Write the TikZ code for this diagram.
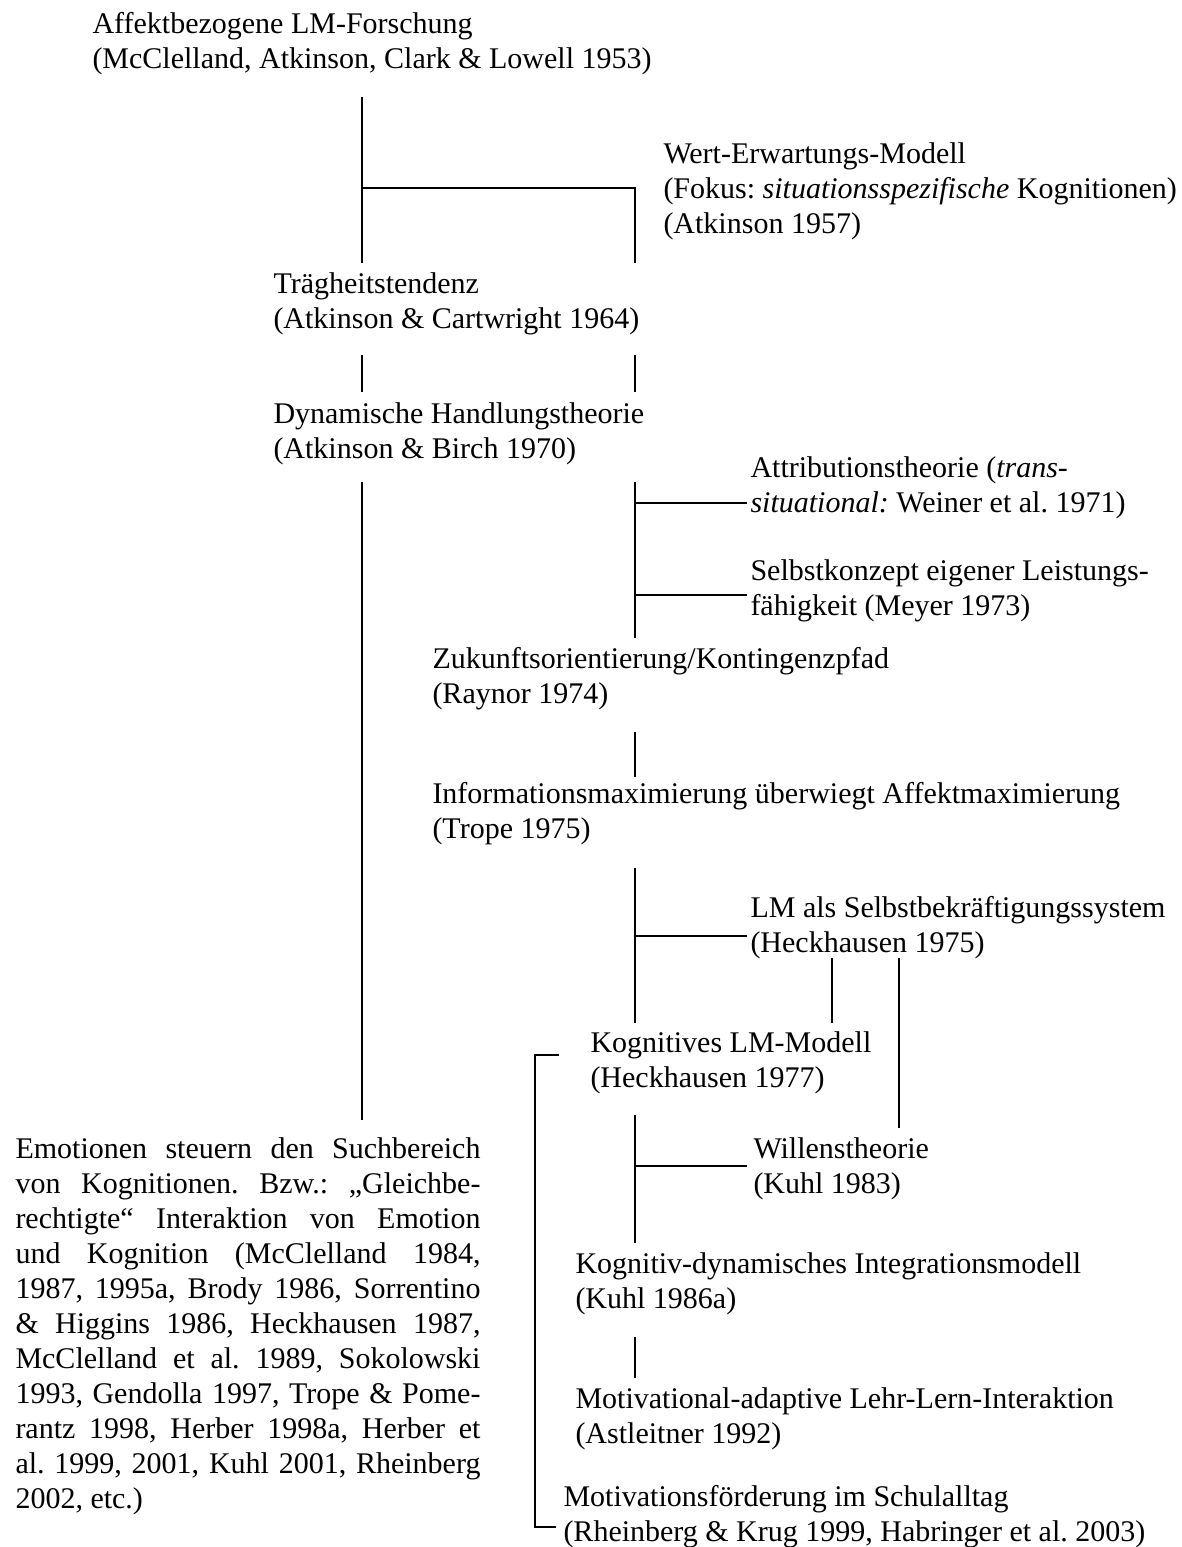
\documentclass[tikz,border=0pt]{standalone}
\usepackage{fontspec}
\setmainfont{Liberation Serif}
\usetikzlibrary{calc}

\tikzset{
  entry/.style={anchor=base west, align=left, inner sep=0pt, font=\fontsize{12}{14}\selectfont\frenchspacing},
  link/.style={black, line width=1pt},
}

\begin{document}
\begin{tikzpicture}[x=0.4pt, y=-0.4pt]
\useasboundingbox (0,0) rectangle (1181,1547);

% texts (placed at the baseline of their last line)
\node[entry] (affekt) at (92,68) {Affektbezogene LM-Forschung\\(McClelland, Atkinson, Clark \& Lowell 1953)};
\node[entry] (wert) at (663,233) {Wert-Erwartungs-Modell\\(Fokus: \textit{situationsspezifische} Kognitionen)\\(Atkinson 1957)};
\node[entry] (traeg) at (273,328) {Trägheitstendenz\\(Atkinson \& Cartwright 1964)};
\node[entry] (dynam) at (273,458) {Dynamische Handlungstheorie\\(Atkinson \& Birch 1970)};
\node[entry] (attrib) at (750,512) {Attributionstheorie (\textit{trans-}\\\textit{situational:} Weiner et al. 1971)};
\node[entry] (selbst) at (750,615) {Selbstkonzept eigener Leistungs-\\fähigkeit (Meyer 1973)};
\node[entry] (zukunft) at (432,703) {Zukunftsorientierung/Kontingenzpfad\\(Raynor 1974)};
\node[entry] (inform) at (432,838) {Informationsmaximierung überwiegt Affektmaximierung\\(Trope 1975)};
\node[entry] (lmselbst) at (750,952) {LM als Selbstbekräftigungssystem\\(Heckhausen 1975)};
\node[entry] (kogn) at (590,1087) {Kognitives LM-Modell\\(Heckhausen 1977)};
\node[entry] (willen) at (753,1193) {Willenstheorie\\(Kuhl 1983)};
\node[entry] (kogdyn) at (575,1308) {Kognitiv-dynamisches Integrationsmodell\\(Kuhl 1986a)};
\node[entry] (motad) at (575,1443) {Motivational-adaptive Lehr-Lern-Interaktion\\(Astleitner 1992)};
\node[entry] (motfoe) at (563,1541) {Motivationsförderung im Schulalltag\\(Rheinberg \& Krug 1999, Habringer et al. 2003)};
\node[entry, text width=186pt, align=justify] (emot) at (15,1158) {Emotionen steuern den Suchbereich\linebreak
von Kognitionen. Bzw.: „Gleichbe-\linebreak rechtigte“ Interaktion von Emotion\linebreak
und Kognition (McClelland 1984,\linebreak 1987, 1995a, Brody 1986, Sorrentino\linebreak
\& Higgins 1986, Heckhausen 1987,\linebreak McClelland et al. 1989, Sokolowski\linebreak
1993, Gendolla 1997, Trope \& Pome-\linebreak rantz 1998, Herber 1998a, Herber et\linebreak
al. 1999, 2001, Kuhl 2001, Rheinberg\linebreak 2002, etc.)};

% left column
\coordinate (A1) at (362,97);
\coordinate (A2) at (362,188);
\coordinate (A3) at (362,263);
\coordinate (A4) at (362,355);
\coordinate (A5) at (362,392);
\coordinate (A6) at (362,482);
\coordinate (A7) at (362,1120);

% right column
\coordinate (B1) at (635,188);
\coordinate (B2) at (635,263);
\coordinate (B3) at (635,355);
\coordinate (B4) at (635,392);
\coordinate (B5) at (635,482);
\coordinate (B6) at (635,638);
\coordinate (B7) at (635,732);
\coordinate (B8) at (635,777);
\coordinate (B9) at (635,868);
\coordinate (B10) at (635,1023);
\coordinate (B11) at (635,1115);
\coordinate (B12) at (635,1243);
\coordinate (B13) at (635,1337);
\coordinate (B14) at (635,1378);

\draw[link] (A1)--(A3);
\draw[link] (A2)--(B1)--(B2);
\draw[link] (A4)--(A5);
\draw[link] (B3)--(B4);
\draw[link] (A6)--(A7);

\draw[link] (B5)--(B6);
\draw[link] (635,503) coordinate (T1) -- (747,503);
\draw[link] (635,595) coordinate (T2) -- (747,595);
\draw[link] (B7)--(B8);

\draw[link] (B9)--(B10);
\draw[link] (635,936) coordinate (T3) -- (747,936);
\draw[link] (832,958) coordinate (H1) -- (832,1023);
\draw[link] (899,958) coordinate (H2) -- (899,1128);

\draw[link] (B11)--(B12);
\draw[link] (635,1166) coordinate (T4) -- (747,1166);
\draw[link] (B13)--(B14);

% bracket
\draw[link] (559,1055) coordinate (K1) -- (535,1055) -- (535,1527) -- (556,1527) coordinate (K2);

\end{tikzpicture}
\end{document}
